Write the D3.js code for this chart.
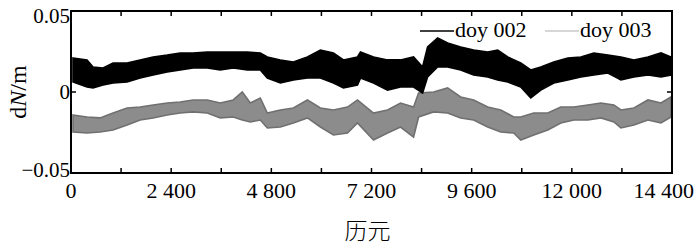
<!DOCTYPE html>
<html>
<head>
<meta charset="utf-8">
<script src="https://cdn.jsdelivr.net/npm/d3@7"></script>
<style>
  body { margin: 0; background: #fff; }
  svg text { font-family: "Times New Roman", "Liberation Serif", Tinos, "Nimbus Roman", FreeSerif, Times, serif; }
  svg text.cjk { font-family: "Noto Sans CJK SC", sans-serif; }
</style>
</head>
<body>
<script>
const WIDTH = 700, HEIGHT = 248;
const MARGIN = { left: 71, right: 28, top: 11, bottom: 75 };

// doy 002 band, upper / lower envelope
const epochs002 = [48, 384, 528, 768, 1008, 1344, 1656, 1968, 2304, 2616, 2928, 3264, 3576, 3888, 4224, 4536, 4704, 5016, 5328, 5664, 5976, 6288, 6528, 6864, 6936, 7248, 7584, 7896, 8208, 8424, 8544, 8784, 9024, 9336, 9648, 9984, 10224, 10464, 10776, 11016, 11256, 11568, 11904, 12216, 12528, 12864, 13176, 13488, 13824, 14136, 14376];
const hi002 = [0.0210, 0.0198, 0.0154, 0.0148, 0.0179, 0.0179, 0.0198, 0.0216, 0.0228, 0.0241, 0.0241, 0.0247, 0.0247, 0.0247, 0.0247, 0.0241, 0.0216, 0.0198, 0.0185, 0.0216, 0.0259, 0.0241, 0.0198, 0.0216, 0.0247, 0.0216, 0.0198, 0.0198, 0.0216, 0.0154, 0.0278, 0.0333, 0.0302, 0.0278, 0.0259, 0.0247, 0.0259, 0.0216, 0.0179, 0.0136, 0.0154, 0.0185, 0.0210, 0.0216, 0.0241, 0.0228, 0.0216, 0.0198, 0.0216, 0.0241, 0.0216];
const lo002 = [0.0062, 0.0031, 0.0025, 0.0043, 0.0056, 0.0062, 0.0086, 0.0105, 0.0123, 0.0136, 0.0148, 0.0148, 0.0136, 0.0148, 0.0136, 0.0136, 0.0086, 0.0056, 0.0074, 0.0086, 0.0086, 0.0056, 0.0025, 0.0043, 0.0086, 0.0056, 0.0012, 0.0031, 0.0031, -0.0006, 0.0093, 0.0154, 0.0154, 0.0136, 0.0105, 0.0093, 0.0074, 0.0062, 0.0031, -0.0037, 0.0012, 0.0056, 0.0074, 0.0093, 0.0105, 0.0117, 0.0074, 0.0093, 0.0105, 0.0093, 0.0105];

// doy 003 band
const epochs003 = [48, 384, 696, 1008, 1344, 1656, 1968, 2304, 2616, 2928, 3264, 3576, 3888, 4104, 4296, 4536, 4704, 5016, 5328, 5664, 5976, 6288, 6624, 6864, 7248, 7584, 7896, 8208, 8328, 8688, 9024, 9336, 9648, 9984, 10296, 10608, 10776, 11088, 11424, 11736, 12048, 12384, 12696, 13008, 13176, 13488, 13824, 14136, 14376];
const hi003 = [-0.0142, -0.0154, -0.0160, -0.0130, -0.0099, -0.0093, -0.0080, -0.0068, -0.0062, -0.0049, -0.0049, -0.0068, -0.0049, 0.0000, -0.0068, -0.0037, -0.0130, -0.0111, -0.0099, -0.0049, -0.0099, -0.0111, -0.0093, -0.0049, -0.0130, -0.0111, -0.0068, -0.0093, -0.0006, 0.0000, 0.0025, -0.0031, -0.0049, -0.0093, -0.0111, -0.0154, -0.0154, -0.0130, -0.0130, -0.0093, -0.0093, -0.0080, -0.0068, -0.0080, -0.0111, -0.0099, -0.0049, -0.0068, -0.0031];
const lo003 = [-0.0247, -0.0253, -0.0247, -0.0235, -0.0204, -0.0173, -0.0160, -0.0142, -0.0130, -0.0123, -0.0130, -0.0160, -0.0154, -0.0173, -0.0185, -0.0173, -0.0222, -0.0216, -0.0191, -0.0160, -0.0216, -0.0265, -0.0253, -0.0191, -0.0296, -0.0253, -0.0216, -0.0278, -0.0154, -0.0123, -0.0130, -0.0160, -0.0173, -0.0216, -0.0247, -0.0253, -0.0296, -0.0265, -0.0235, -0.0191, -0.0173, -0.0173, -0.0160, -0.0185, -0.0222, -0.0204, -0.0173, -0.0191, -0.0154];

const xTicks = d3.range(0, 14401, 1200);
const xLabels = [0, 2400, 4800, 7200, 9600, 12000, 14400];
const yLabels = [-0.05, 0, 0.05];
const seriesNames = ["doy 002", "doy 003"];

const x = d3.scaleLinear([0, 14400], [MARGIN.left, WIDTH - MARGIN.right]);
const y = d3.scaleLinear([-0.05, 0.05], [HEIGHT - MARGIN.bottom, MARGIN.top]);

const svg = d3.select("body").append("svg")
    .attr("width", WIDTH)
    .attr("height", HEIGHT);

function band(epochs, hi, lo) {
  return epochs.map((e, i) => ({ e, hi: hi[i], lo: lo[i] }));
}

const area = d3.area()
    .x(d => x(d.e))
    .y0(d => y(d.lo))
    .y1(d => y(d.hi));

svg.append("path")
    .datum(band(epochs003, hi003, lo003))
    .attr("fill", "#8c8c8c")
    .attr("stroke", "#707070")
    .attr("stroke-width", 1.6)
    .attr("d", area);

svg.append("path")
    .datum(band(epochs002, hi002, lo002))
    .attr("fill", "#000")
    .attr("stroke", "#000")
    .attr("stroke-width", 1.6)
    .attr("d", area);

// frame
const x0 = x(0), x1 = x(14400), yb = y(-0.05), yt = y(0.05);
svg.append("rect")
    .attr("x", x0).attr("y", yt)
    .attr("width", x1 - x0).attr("height", yb - yt)
    .attr("fill", "none")
    .attr("stroke", "#000")
    .attr("stroke-width", 2);

// inward ticks
const tickLen = 5;
const ticks = svg.append("g").attr("stroke", "#000").attr("stroke-width", 1.5);
xTicks.forEach(t => {
  ticks.append("line").attr("x1", x(t)).attr("x2", x(t)).attr("y1", yb).attr("y2", yb - tickLen);
  ticks.append("line").attr("x1", x(t)).attr("x2", x(t)).attr("y1", yt).attr("y2", yt + tickLen);
});
ticks.append("line").attr("x1", x0).attr("x2", x0 + tickLen).attr("y1", y(0)).attr("y2", y(0));
ticks.append("line").attr("x1", x1).attr("x2", x1 - tickLen).attr("y1", y(0)).attr("y2", y(0));

const fmtX = d => d3.format(",")(d).replace(",", " ");

svg.append("g")
    .style("font-size", "22px")
  .selectAll("text")
  .data(xLabels)
  .join("text")
    .attr("x", d => x(d))
    .attr("y", yb + 25)
    .attr("text-anchor", (d, i) => i === xLabels.length - 1 ? "end" : "middle")
    .attr("dx", (d, i) => i === xLabels.length - 1 ? 22 : 0)
    .text(fmtX);

svg.append("g")
    .style("font-size", "21px")
    .attr("text-anchor", "end")
  .selectAll("text")
  .data(yLabels)
  .join("text")
    .attr("x", x0 - 1)
    .attr("y", d => y(d) + (d === 0.05 ? 5 : d === -0.05 ? -3 : 0))
    .attr("dy", "0.35em")
    .text(d => d === 0 ? "0" : d3.format(".2f")(d));

// axis titles
const yTitle = svg.append("text")
    .attr("transform", `translate(26,${y(0)}) rotate(-90)`)
    .attr("text-anchor", "middle")
    .style("font-size", "24px");
yTitle.append("tspan").text("d");
yTitle.append("tspan").style("font-style", "italic").text("N");
yTitle.append("tspan").text("/m");

svg.append("text")
    .attr("class", "cjk")
    .attr("x", (x0 + x1) / 2 - 4)
    .attr("y", 239)
    .attr("text-anchor", "middle")
    .style("font-weight", 300)
    .style("font-size", "23px")
    .text("历元");

// legend
const legend = svg.append("g").style("font-size", "22px");
const legendColors = ["#000", "#c8c8c8"];
const legendX = [420, 545];
seriesNames.forEach((name, i) => {
  legend.append("line")
      .attr("x1", legendX[i]).attr("x2", legendX[i] + 34)
      .attr("y1", 31).attr("y2", 31)
      .attr("stroke", legendColors[i])
      .attr("stroke-width", 1.5);
  legend.append("text")
      .attr("x", legendX[i] + 35)
      .attr("y", 37)
      .text(name);
});
</script>
</body>
</html>
